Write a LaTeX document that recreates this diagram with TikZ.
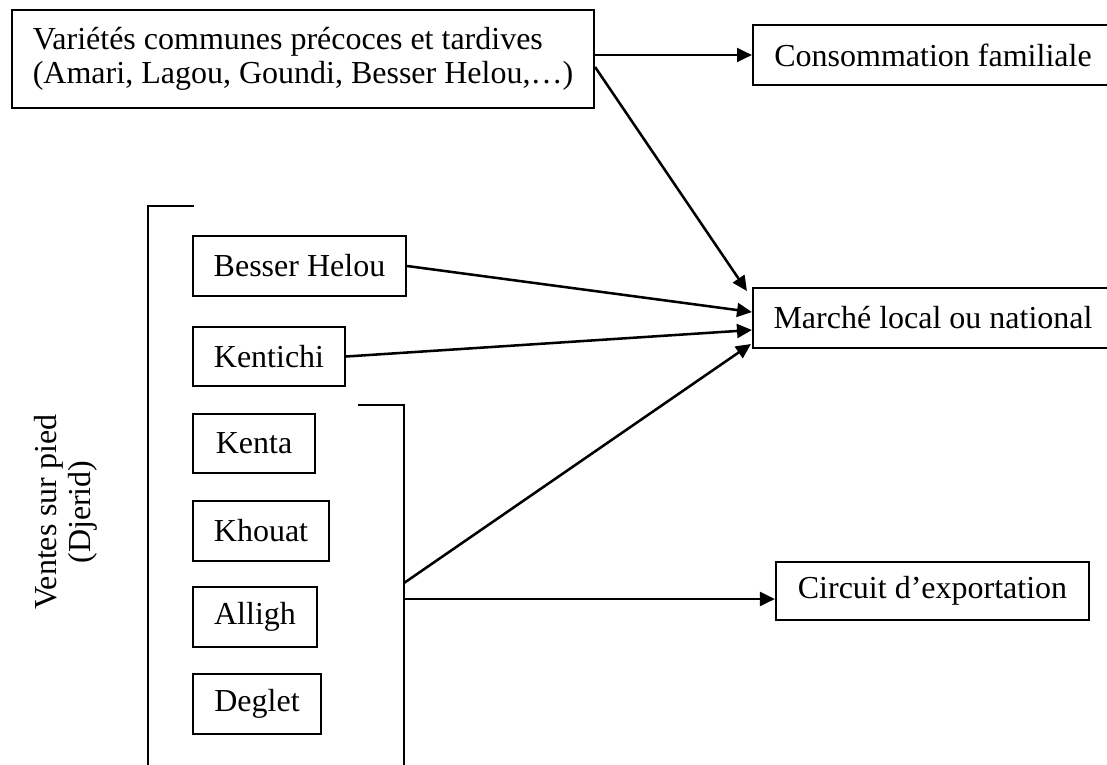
\documentclass[tikz,border=0pt]{standalone}
\usepackage{fontspec}
\setmainfont{Liberation Serif}
\usetikzlibrary{arrows.meta,calc}

\begin{document}
\begin{tikzpicture}[
    x=0.375pt, y=-0.375pt,
    font=\fontsize{12}{12.6}\selectfont,
    box/.style={draw, line width=0.8pt, inner sep=0pt, align=center},
    flow/.style={-{Triangle[length=5.6pt,width=5.2pt]}, line width=0.95pt},
    bracket/.style={line width=0.9pt}
  ]
  \useasboundingbox (0,0) rectangle (1107,764);

  % source box with the common varieties
  \node[box, minimum width=218.25pt, minimum height=36.75pt, align=left] (top) at (303,59)
    {Variétés communes précoces et tardives\\(Amari, Lagou, Goundi, Besser Helou,\ldots)};

  % destinations
  \node[box, minimum width=135pt, minimum height=22.5pt] (cons) at (933,55) {Consommation familiale};
  \node[box, minimum width=135pt, minimum height=22.5pt] (market) at (933,318) {Marché local ou national};
  \node[box, minimum width=117.4pt, minimum height=21.75pt] (export) at (932.5,591) {Circuit d’exportation};

  % varieties sold standing on the palm
  \node[box, minimum width=79.9pt, minimum height=22.5pt] (besser) at (299.5,266) {Besser Helou};
  \node[box, minimum width=57pt, minimum height=22.1pt] (kentichi) at (269,356.5) {Kentichi};
  \node[box, minimum width=45.75pt, minimum height=22.1pt] (kenta) at (254,443.5) {Kenta};
  \node[box, minimum width=51pt, minimum height=22.5pt] (khouat) at (261,531) {Khouat};
  \node[box, minimum width=46.5pt, minimum height=22.5pt] (alligh) at (255,617) {Alligh};
  \node[box, minimum width=48pt, minimum height=22.5pt] (deglet) at (257,704) {Deglet};

  % vertical side label
  \node[rotate=90, align=center, font=\fontsize{12}{12.8}\selectfont] (side) at (66,512)
    {Ventes sur pied\\(Djerid)};

  % brackets grouping the varieties
  \coordinate (lbtop) at (194,206);
  \coordinate (lbcorner) at (148,206);
  \coordinate (lbbot) at (148,770);
  \draw[bracket] (lbtop) -- (lbcorner) -- (lbbot);

  \coordinate (rbtop) at (358,405);
  \coordinate (rbcorner) at (404,405);
  \coordinate (rbbot) at (404,770);
  \draw[bracket] (rbtop) -- (rbcorner) -- (rbbot);

  \coordinate (rbout1) at (404,583);
  \coordinate (rbout2) at (404,599);

  % flows
  \draw[flow] (cons.west -| top.east) -- (cons.west);
  \draw[flow] ($(top.east)+(0,8)$) -- ($(market.west)+(-5,-27)$);
  \draw[flow] (besser.east) -- ($(market.west)+(0,-6)$);
  \draw[flow] (kentichi.east) -- ($(market.west)+(0,12)$);
  \draw[flow] (rbout1) -- ($(market.west)+(-1,26)$);
  \draw[flow] (rbout2) -- (rbout2 -| export.west);
\end{tikzpicture}
\end{document}
